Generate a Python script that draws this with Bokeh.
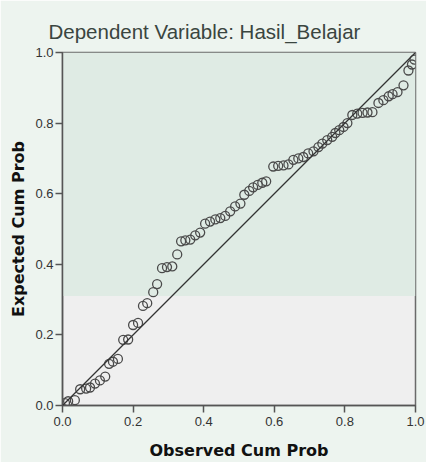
from bokeh.plotting import figure
from bokeh.models import Range1d, FixedTicker, PrintfTickFormatter, BoxAnnotation, Slope
from bokeh.embed import file_html
from bokeh.resources import INLINE

title_text = "Dependent Variable: Hasil_Belajar"
x_label = "Observed Cum Prob"
y_label = "Expected Cum Prob"
ticks = [0.0, 0.2, 0.4, 0.6, 0.8, 1.0]

observed = [0.007, 0.016, 0.035, 0.050, 0.067, 0.078, 0.092, 0.106, 0.121, 0.132,
            0.143, 0.157, 0.172, 0.186, 0.200, 0.214, 0.228, 0.240, 0.257, 0.268,
            0.282, 0.296, 0.311, 0.325, 0.336, 0.348, 0.362, 0.376, 0.390, 0.404,
            0.418, 0.433, 0.447, 0.461, 0.475, 0.489, 0.504, 0.515, 0.529, 0.540,
            0.553, 0.566, 0.577, 0.597, 0.611, 0.626, 0.640, 0.654, 0.668, 0.682,
            0.696, 0.711, 0.725, 0.736, 0.750, 0.764, 0.773, 0.784, 0.796, 0.807,
            0.821, 0.835, 0.850, 0.864, 0.878, 0.895, 0.909, 0.924, 0.935, 0.949,
            0.966, 0.980, 0.990, 0.997]
expected = [0.007, 0.012, 0.015, 0.046, 0.048, 0.051, 0.062, 0.071, 0.082, 0.118,
            0.124, 0.132, 0.186, 0.187, 0.228, 0.234, 0.282, 0.290, 0.321, 0.344,
            0.389, 0.392, 0.394, 0.428, 0.465, 0.468, 0.470, 0.482, 0.490, 0.515,
            0.521, 0.527, 0.531, 0.537, 0.550, 0.564, 0.572, 0.597, 0.608, 0.618,
            0.625, 0.631, 0.635, 0.677, 0.679, 0.680, 0.683, 0.696, 0.700, 0.704,
            0.714, 0.720, 0.732, 0.742, 0.752, 0.761, 0.772, 0.780, 0.789, 0.800,
            0.823, 0.827, 0.829, 0.830, 0.831, 0.857, 0.865, 0.876, 0.882, 0.888,
            0.907, 0.949, 0.966, 0.980]

p = figure(width=426, height=462, output_backend="svg", toolbar_location=None,
           x_range=Range1d(0, 1), y_range=Range1d(0, 1),
           min_border_left=62, min_border_right=11, min_border_top=52, min_border_bottom=55)

p.border_fill_color = "#edf4ef"
p.background_fill_color = "#efefef"
p.outline_line_color = "#6a6a6a"
p.outline_line_width = 1.5
p.grid.visible = False

# greenish upper zone of the plot area
p.add_layout(BoxAnnotation(bottom=0.31, fill_color="#dfebe4", fill_alpha=1.0, line_color=None, level="underlay"))

p.title.text = title_text
p.title.text_font = "Liberation Sans"
p.title.text_font_size = "20.5px"
p.title.text_font_style = "normal"
p.title.text_color = "#3a4540"
p.title.align = "left"
p.title.offset = -14
p.title.standoff = 20

for ax in (p.xaxis[0], p.yaxis[0]):
    ax.ticker = FixedTicker(ticks=ticks)
    ax.formatter = PrintfTickFormatter(format="%.1f")
    ax.major_tick_out = 7
    ax.major_tick_in = 0
    ax.minor_tick_out = 0
    ax.minor_tick_in = 0
    ax.axis_line_color = "#555555"
    ax.axis_line_width = 1.5
    ax.major_tick_line_color = "#555555"
    ax.major_tick_line_width = 1.5
    ax.major_label_text_font = "Liberation Sans"
    ax.major_label_text_font_size = "13px"
    ax.major_label_text_color = "#333333"
    ax.axis_label_text_font = "DejaVu Sans"
    ax.axis_label_text_font_size = "16px"
    ax.axis_label_text_font_style = "bold"
    ax.axis_label_text_color = "#111111"

p.xaxis.axis_label = x_label
p.yaxis.axis_label = y_label
p.xaxis.major_label_standoff = 4
p.yaxis.major_label_standoff = 2
p.xaxis.axis_label_standoff = 12
p.yaxis.axis_label_standoff = 4

p.add_layout(Slope(gradient=1, y_intercept=0, line_color="#333333", line_width=1.3))

p.scatter(observed, expected, marker="circle", size=9, fill_color=None,
          line_color="#4a4a4a", line_width=1.3)

open("out.html", "w").write(file_html(p, INLINE))
